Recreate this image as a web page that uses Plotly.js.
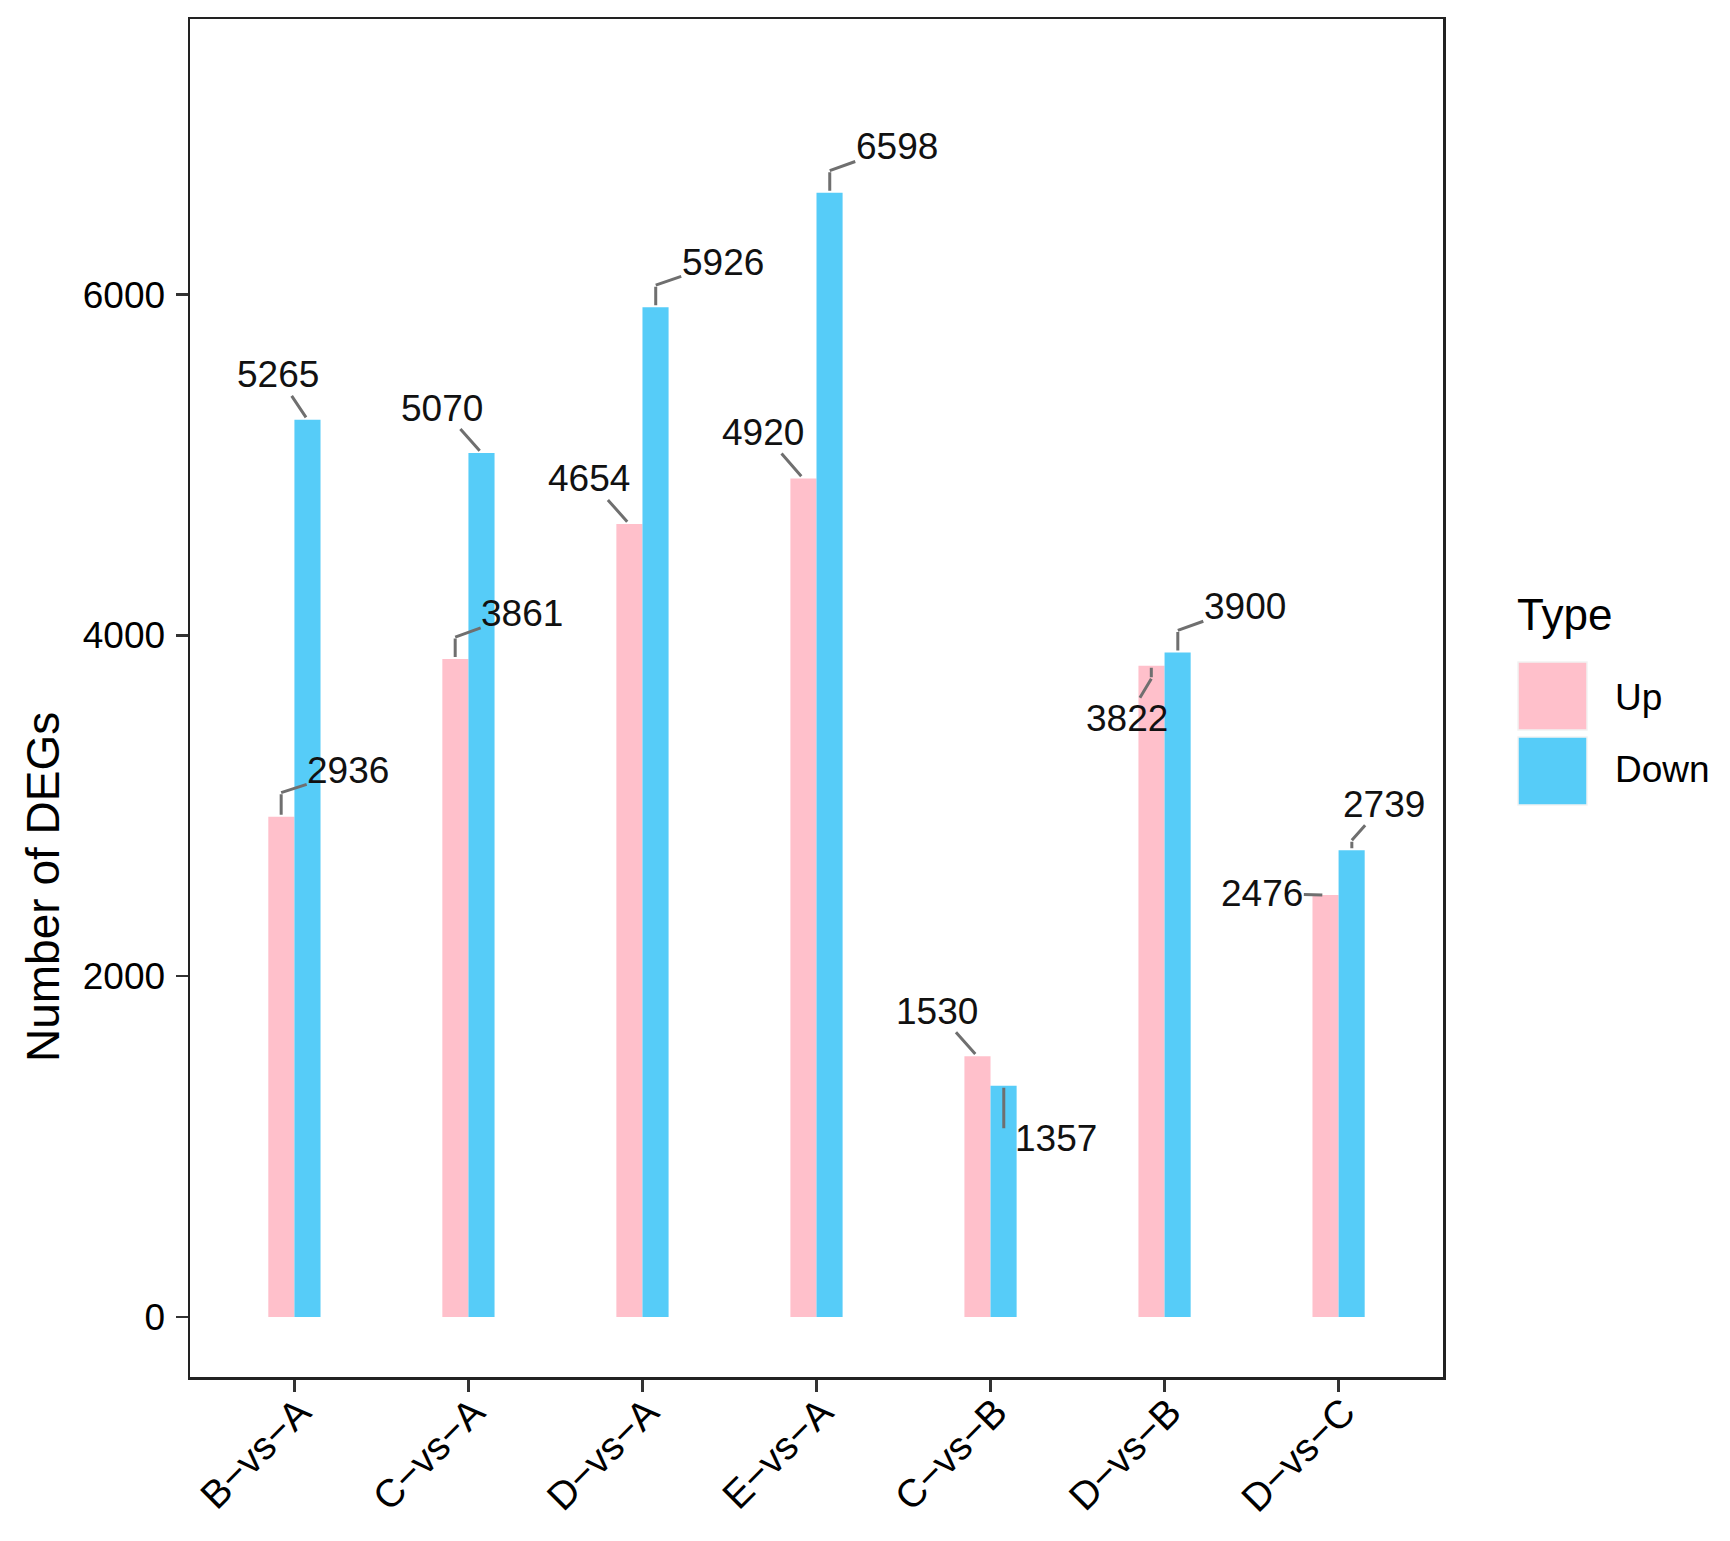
<!DOCTYPE html>
<html>
<head>
<meta charset="utf-8">
<script src="https://cdn.plot.ly/plotly-3.0.1.min.js"></script>
<style>html,body{margin:0;padding:0;background:#fff;}</style>
</head>
<body>
<div id="chart" style="width:1730px;height:1541px;"></div>
<script>
// ---- data ----
const categories = ["B−vs−A", "C−vs−A", "D−vs−A", "E−vs−A", "C−vs−B", "D−vs−B", "D−vs−C"];
const upValues   = [2936, 3861, 4654, 4920, 1530, 3822, 2476];
const downValues = [5265, 5070, 5926, 6598, 1357, 3900, 2739];
const seriesNames = ["Up", "Down"];
const yTickValues = [0, 2000, 4000, 6000];

// label placement (px) of each label centre relative to its bar top (repel-style)
const upLabelOffsets   = [[67,-46],[67,-46],[-40,-45],[-40,-46],[-40,-45],[-24,53],[-63,-2]];
const downLabelOffsets = [[-30,-45],[-40,-45],[67,-45],[67,-46],[52,53],[67,-46],[32,-46]];
// vertical elbow of each leader line (px, + = up), and whether a diagonal part follows
const upElbow   = [24, 22, 0, 0, 0, -13, 0];
const downElbow = [0, 0, 22, 22, -44, 22, 10];
const upDiag    = [true, true, true, true, true, true, true];
const downDiag  = [true, true, true, true, false, true, true];

const colUp = "#FFC0CB", colDown = "#56CCF8";
const FONT = "Liberation Sans, Arial, Helvetica, sans-serif";
const LEADER = "#6f6f6f";

// layout geometry (px)
const W = 1730, H = 1541;
const mL = 190, mR = 287, mT = 19, mB = 164;
const plotW = W - mL - mR, plotH = H - mT - mB;
const px2x = p => (p - mL) / plotW;
const px2y = p => (H - mB - p) / plotH;
const barHalf = 13.25;

const traces = [
  {type: "bar", name: seriesNames[0], x: categories, y: upValues,
   marker: {color: colUp, line: {width: 0}}, showlegend: false, hoverinfo: "x+y"},
  {type: "bar", name: seriesNames[1], x: categories, y: downValues,
   marker: {color: colDown, line: {width: 0}}, showlegend: false, hoverinfo: "x+y"}
];

const annotations = [];
function addLabels(vals, offs, elbows, diags, shift) {
  vals.forEach((v, i) => {
    const s = elbows[i];
    if (s !== 0) {
      annotations.push({
        x: categories[i], y: v, xref: "x", yref: "y", xshift: shift,
        text: "", showarrow: true, arrowhead: 0, arrowwidth: 3,
        arrowcolor: LEADER, standoff: 2, startstandoff: 0,
        ax: 0, ay: -s, axref: "pixel", ayref: "pixel"
      });
    }
    const lab = {
      x: categories[i], y: v, xref: "x", yref: "y",
      text: String(v), font: {family: FONT, size: 37, color: "#111"}, borderpad: 0
    };
    if (diags[i]) {
      Object.assign(lab, {
        xshift: shift, yshift: s, showarrow: true, arrowhead: 0, arrowwidth: 3,
        arrowcolor: LEADER, standoff: s !== 0 ? 0 : 3,
        ax: offs[i][0], ay: offs[i][1] + s, axref: "pixel", ayref: "pixel"
      });
    } else {
      Object.assign(lab, {
        showarrow: false, xanchor: "center", yanchor: "middle",
        xshift: shift + offs[i][0], yshift: -offs[i][1]
      });
    }
    annotations.push(lab);
  });
}
addLabels(upValues, upLabelOffsets, upElbow, upDiag, -barHalf);
addLabels(downValues, downLabelOffsets, downElbow, downDiag, barHalf);

// y-axis title
annotations.push({
  xref: "paper", yref: "paper", x: px2x(43), y: px2y(887),
  text: "Number of DEGs", textangle: -90, showarrow: false,
  xanchor: "center", yanchor: "middle",
  font: {family: FONT, size: 46, color: "#000"}
});

// legend (manual, ggplot style)
annotations.push({
  xref: "paper", yref: "paper", x: px2x(1515), y: px2y(614),
  text: "Type", showarrow: false, xanchor: "left", yanchor: "middle",
  font: {family: FONT, size: 44, color: "#000"}
});
annotations.push({
  xref: "paper", yref: "paper", x: px2x(1613), y: px2y(697),
  text: seriesNames[0], showarrow: false, xanchor: "left", yanchor: "middle",
  font: {family: FONT, size: 37, color: "#000"}
});
annotations.push({
  xref: "paper", yref: "paper", x: px2x(1613), y: px2y(769),
  text: seriesNames[1], showarrow: false, xanchor: "left", yanchor: "middle",
  font: {family: FONT, size: 37, color: "#000"}
});
const shapes = [
  {type: "rect", xref: "paper", yref: "paper", x0: px2x(1518), x1: px2x(1587), y0: px2y(730), y1: px2y(662),
   fillcolor: colUp, line: {width: 1.5, color: "#f2f2f2"}},
  {type: "rect", xref: "paper", yref: "paper", x0: px2x(1518), x1: px2x(1587), y0: px2y(805), y1: px2y(737),
   fillcolor: colDown, line: {width: 1.5, color: "#f2f2f2"}}
];

const layout = {
  width: W, height: H,
  margin: {l: mL, r: mR, t: mT, b: mB, pad: 0},
  paper_bgcolor: "#fff", plot_bgcolor: "#fff",
  barmode: "group", bargap: 0.7, bargroupgap: 0,
  showlegend: false,
  font: {family: FONT, color: "#000"},
  xaxis: {
    type: "category", range: [-0.6, 6.6], tickangle: -45,
    showline: true, mirror: true, linecolor: "#222", linewidth: 2.5,
    ticks: "outside", ticklen: 12, tickwidth: 2.5, tickcolor: "#333",
    showgrid: false, zeroline: false,
    tickfont: {family: FONT, size: 39, color: "#000"},
    ticklabelstandoff: -18, ticklabelshift: 5
  },
  yaxis: {
    range: [-352, 7617], tickvals: yTickValues, ticktext: yTickValues.map(String),
    showline: true, mirror: true, linecolor: "#222", linewidth: 2.5,
    ticks: "outside", ticklen: 12, tickwidth: 2.5, tickcolor: "#333",
    showgrid: false, zeroline: false,
    tickfont: {family: FONT, size: 37, color: "#000"},
    ticklabelstandoff: 3
  },
  annotations: annotations,
  shapes: shapes
};

Plotly.newPlot("chart", traces, layout, {displayModeBar: false, staticPlot: true});
</script>
</body>
</html>
